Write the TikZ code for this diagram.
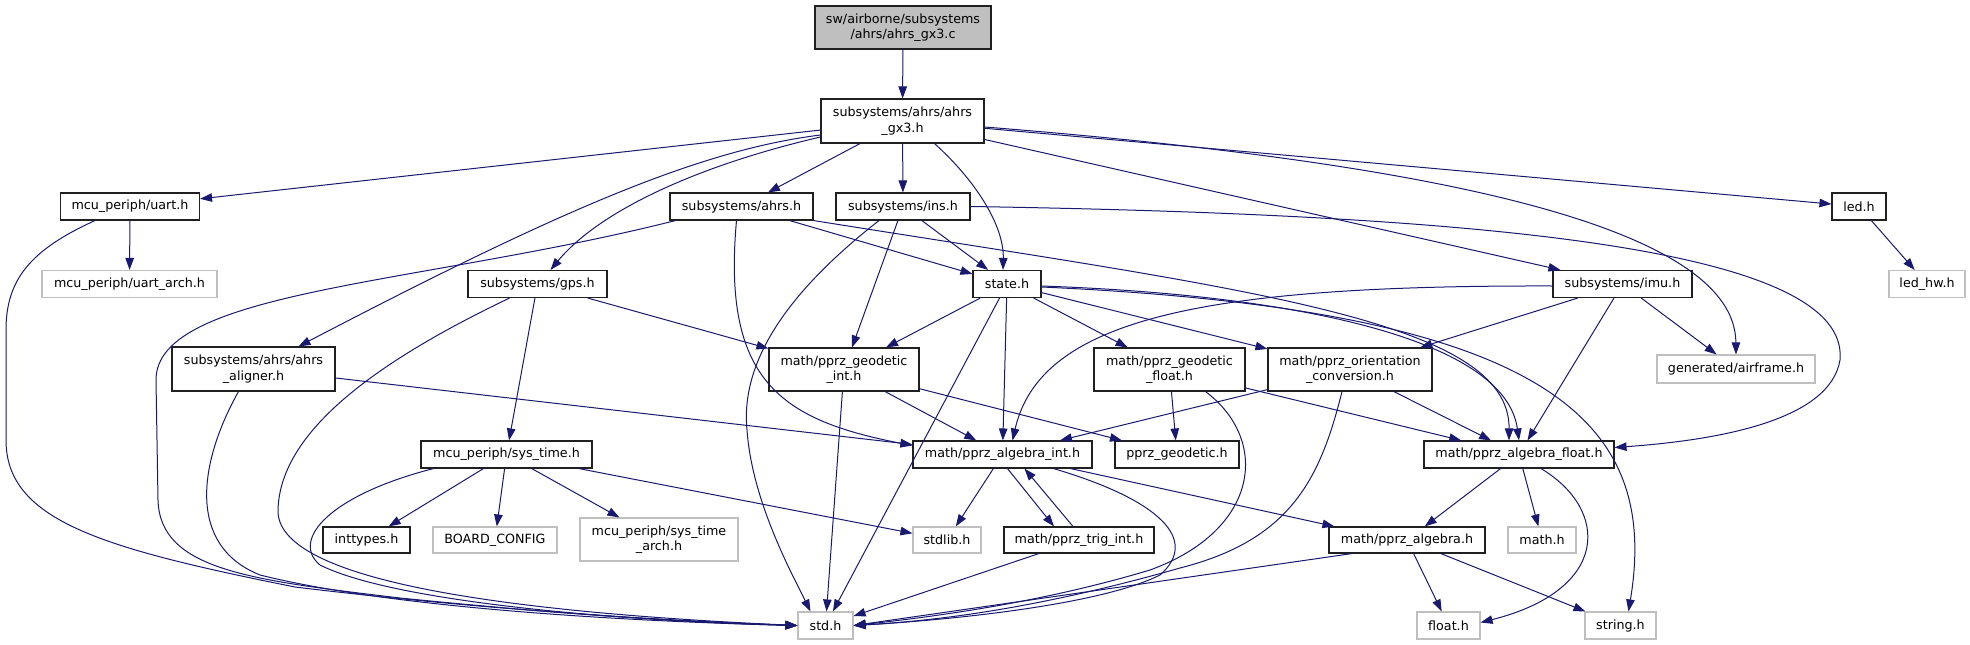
\documentclass[tikz,border=0pt]{standalone}
\usepackage{fontspec}
\setmainfont{DejaVu Sans}
\usetikzlibrary{arrows.meta}
\definecolor{edgec}{HTML}{191970}
\definecolor{grayb}{HTML}{BFBFBF}
\definecolor{boxb}{HTML}{202020}
\begin{document}
\begin{tikzpicture}[x=1pt,y=-1pt,
  box/.style={draw=boxb,line width=1.1pt,rectangle,inner sep=0pt,align=center,
    font=\fontsize{12.7}{15.6}\selectfont},
  gbox/.style={box,draw=grayb},
  ed/.style={draw=edgec,line width=1pt,-{Triangle[length=12pt,width=8.5pt]}},
]
\useasboundingbox (0,0) rectangle (1970,645);
% nodes
\node[box,fill=grayb,minimum width=176pt,minimum height=43pt] (root) at (903,27.5) {sw/airborne/subsystems\\/ahrs/ahrs\_gx3.c};
\node[box,minimum width=163pt,minimum height=44pt] (gx3) at (902.5,121) {subsystems/ahrs/ahrs\\\_gx3.h};
\node[box,minimum width=139pt,minimum height=27pt] (uart) at (130,206.5) {mcu\_periph/uart.h};
\node[box,minimum width=143pt,minimum height=27pt] (ahrs) at (741.5,206.5) {subsystems/ahrs.h};
\node[box,minimum width=134pt,minimum height=27pt] (ins) at (903,206.5) {subsystems/ins.h};
\node[box,minimum width=54pt,minimum height=27pt] (led) at (1859,206.5) {led.h};
\node[gbox,minimum width=175pt,minimum height=27pt] (uarta) at (129.5,284) {mcu\_periph/uart\_arch.h};
\node[box,minimum width=139pt,minimum height=27pt] (gps) at (537.5,284) {subsystems/gps.h};
\node[box,minimum width=68pt,minimum height=27pt] (state) at (1007,284) {state.h};
\node[box,minimum width=139pt,minimum height=27pt] (imu) at (1622.5,284) {subsystems/imu.h};
\node[gbox,minimum width=76pt,minimum height=27pt] (ledhw) at (1927,284) {led\_hw.h};
\node[box,minimum width=163pt,minimum height=44pt] (aligner) at (253.5,369) {subsystems/ahrs/ahrs\\\_aligner.h};
\node[box,minimum width=150pt,minimum height=43pt] (geoint) at (844,369.5) {math/pprz\_geodetic\\\_int.h};
\node[box,minimum width=151pt,minimum height=43pt] (geofloat) at (1169.5,369.5) {math/pprz\_geodetic\\\_float.h};
\node[box,minimum width=164pt,minimum height=43pt] (orient) at (1350,369.5) {math/pprz\_orientation\\\_conversion.h};
\node[gbox,minimum width=158pt,minimum height=28pt] (airframe) at (1736,369) {generated/airframe.h};
\node[box,minimum width=171pt,minimum height=27pt] (systime) at (506.5,454.5) {mcu\_periph/sys\_time.h};
\node[box,minimum width=179pt,minimum height=27pt] (aint) at (1002.5,454.5) {math/pprz\_algebra\_int.h};
\node[box,minimum width=124pt,minimum height=27pt] (geod) at (1177,454.5) {pprz\_geodetic.h};
\node[box,minimum width=190pt,minimum height=27pt] (afloat) at (1519,454.5) {math/pprz\_algebra\_float.h};
\node[box,minimum width=87pt,minimum height=26pt] (inttypes) at (366.5,540) {inttypes.h};
\node[gbox,minimum width=124pt,minimum height=26pt] (board) at (495,540) {BOARD\_CONFIG};
\node[gbox,minimum width=158pt,minimum height=43pt] (starch) at (659,539.5) {mcu\_periph/sys\_time\\\_arch.h};
\node[gbox,minimum width=68pt,minimum height=26pt] (stdlib) at (947,540) {stdlib.h};
\node[box,minimum width=150pt,minimum height=26pt] (trig) at (1079,540) {math/pprz\_trig\_int.h};
\node[box,minimum width=156pt,minimum height=26pt] (algebra) at (1407,540) {math/pprz\_algebra.h};
\node[gbox,minimum width=68pt,minimum height=26pt] (mathh) at (1542,540) {math.h};
\node[gbox,minimum width=55pt,minimum height=27pt] (stdh) at (825.5,625.5) {std.h};
\node[gbox,minimum width=63pt,minimum height=27pt] (floath) at (1448.5,625.5) {float.h};
\node[gbox,minimum width=71pt,minimum height=27pt] (stringh) at (1620.5,625.5) {string.h};
% edges
\draw[ed] (root) -- (gx3);
\draw[ed] (gx3) -- (uart);
\draw[ed] (gx3) -- (ahrs);
\draw[ed] (gx3) -- (ins);
\draw[ed] ([xshift=32pt]gx3.south) .. controls (975,180) and (1004,225) .. ([xshift=-4pt]state.north);
\draw[ed] ([yshift=-16pt]gx3.west) .. controls (700,165) and (600,210) .. ([xshift=13pt]gps.north);
\draw[ed] ([yshift=-14pt]gx3.west) .. controls (700,150) and (560,210) .. ([xshift=45pt]aligner.north);
\draw[ed] (gx3) -- (imu);
\draw[ed] (gx3) -- (led);
\draw[ed] ([yshift=-6pt]gx3.east) .. controls (1400,160) and (1735,220) .. (airframe.north);
% uart
\draw[ed] (uart) -- (uarta);
\draw[ed] ([xshift=-35pt]uart.south) .. controls (30,250) and (6,280) .. (6,330) -- (6,440) .. controls (6,520) and (100,548) .. (295,587) .. controls (500,612) and (700,622) .. (stdh.west);
% ahrs
\draw[ed] ([xshift=-66pt]ahrs.south) .. controls (420,285) and (156,290) .. (156,380) -- (158,500) .. controls (160,570) and (250,580) .. (400,598) .. controls (600,618) and (700,622) .. (stdh.west);
\draw[ed] (ahrs) -- (state);
\draw[ed] ([xshift=-5pt]ahrs.south) .. controls (722,380) and (780,420) .. ([yshift=9pt]aint.west);
\draw[ed] (ahrs.south east) .. controls (1250,290) and (1510,320) .. ([xshift=-10pt]afloat.north);
% ins
\draw[ed] ([xshift=-24pt]ins.south) .. controls (790,290) and (740,360) .. (747,430) .. controls (752,500) and (790,570) .. ([xshift=-15pt]stdh.north);
\draw[ed] (ins) -- (state);
\draw[ed] (ins) -- (geoint);
\draw[ed] (ins.east) .. controls (1500,215) and (1850,250) .. (1840,360) .. controls (1830,420) and (1720,440) .. ([yshift=7pt]afloat.east);
% state
\draw[ed] (state) -- (stdh);
\draw[ed] (state) -- (aint);
\draw[ed] (state) -- (geoint);
\draw[ed] (state) -- (geofloat);
\draw[ed] (state) -- (orient);
\draw[ed] ([yshift=-2pt]state.east) .. controls (1300,295) and (1505,340) .. (afloat.north);
\draw[ed] ([yshift=-3pt]state.east) .. controls (1550,310) and (1660,420) .. ([xshift=8pt]stringh.north);
% gps
\draw[ed] ([xshift=-28pt]gps.south) .. controls (380,360) and (280,430) .. (278,510) .. controls (276,580) and (500,612) .. (stdh.west);
\draw[ed] (gps) -- (geoint);
\draw[ed] (gps) -- (systime);
% aligner
\draw[ed] ([xshift=-15pt]aligner.south) .. controls (200,460) and (185,545) .. (260,575) .. controls (400,610) and (650,622) .. (stdh.west);
\draw[ed] ([yshift=-9pt]aligner.east) -- ([yshift=10pt]aint.west);
% sys_time
\draw[ed] ([xshift=-73pt]systime.south) .. controls (330,495) and (290,540) .. (320,565) .. controls (400,605) and (650,622) .. (stdh.west);
\draw[ed] (systime) -- (inttypes);
\draw[ed] (systime) -- (board);
\draw[ed] (systime) -- (starch);
\draw[ed] (systime) -- (stdlib);
% geodetic int / float
\draw[ed] (geoint) -- (stdh);
\draw[ed] (geoint) -- (aint);
\draw[ed] (geoint) -- (geod);
\draw[ed] ([xshift=36pt]geofloat.south) .. controls (1270,440) and (1260,530) .. (1150,570) .. controls (1050,600) and (950,615) .. (stdh.east);
\draw[ed] (geofloat) -- (geod);
\draw[ed] (geofloat) -- (afloat);
% orientation
\draw[ed] (orient) -- (aint);
\draw[ed] (orient) -- (afloat);
\draw[ed] ([xshift=-8pt]orient.south) .. controls (1320,480) and (1290,540) .. (1180,568) .. controls (1050,605) and (950,620) .. (stdh.east);
% imu
\draw[ed] ([yshift=-2pt]imu.west) .. controls (1200,285) and (1040,320) .. ([xshift=10pt]aint.north);
\draw[ed] (imu) -- (afloat);
\draw[ed] (imu) -- (airframe);
\draw[ed] (imu) -- (orient);
% algebra int
\draw[ed] (aint) -- (stdlib);
\draw[ed] ([xshift=5pt]aint.south) -- ([xshift=-25pt]trig.north);
\draw[ed] ([xshift=-6pt]trig.north) -- ([xshift=22pt]aint.south);
\draw[ed] ([xshift=51pt]aint.south) .. controls (1160,500) and (1200,540) .. (1160,575) .. controls (1100,605) and (950,620) .. (stdh.east);
\draw[ed] ([xshift=68pt]aint.south) -- ([xshift=6pt]algebra.north west);
\draw[ed] (trig) -- (stdh);
% algebra float
\draw[ed] (afloat) -- (algebra);
\draw[ed] (afloat) -- (mathh);
\draw[ed] ([xshift=22pt]afloat.south) .. controls (1610,510) and (1610,590) .. ([yshift=3pt]floath.east);
% algebra
\draw[ed] ([xshift=-55pt]algebra.south) -- (stdh.east);
\draw[ed] (algebra) -- (floath);
\draw[ed] (algebra) -- (stringh);
% led
\draw[ed] (led) -- (ledhw);
\end{tikzpicture}
\end{document}
